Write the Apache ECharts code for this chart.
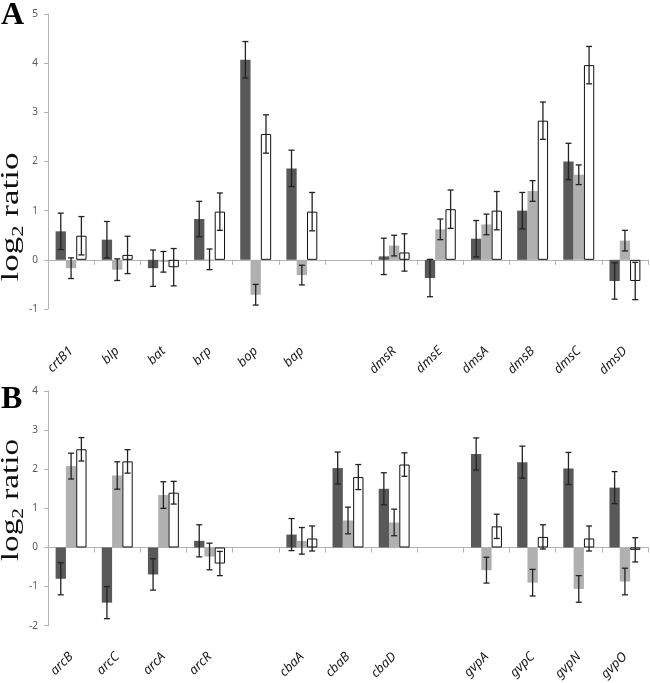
<!DOCTYPE html>
<html><head><meta charset="utf-8">
<script src="https://cdn.jsdelivr.net/npm/echarts@6/dist/echarts.min.js"></script>
<style>html,body{margin:0;padding:0;background:#fff}#c{width:650px;height:683px}</style>
</head><body><div id="c"></div>
<script>
// Panel A
var catsA = ['crtB1','blp','bat','brp','bop','bap','','dmsR','dmsE','dmsA','dmsB','dmsC','dmsD'];
var darkA  = [0.58, 0.41, -0.17, 0.83, 4.07, 1.86, null, 0.07, -0.37, 0.43, 1.00, 2.00, -0.43];
var lightA = [-0.17, -0.20, -0.04, 0.01, -0.71, -0.31, null, 0.29, 0.62, 0.72, 1.40, 1.73, 0.39];
var whiteA = [0.49, 0.10, -0.15, 0.98, 2.56, 0.98, null, 0.15, 1.03, 1.00, 2.83, 3.96, -0.43];
var errDarkA  = [0.37, 0.37, 0.37, 0.36, 0.37, 0.37, null, 0.37, 0.38, 0.37, 0.37, 0.37, 0.37];
var errLightA = [0.21, 0.22, 0.21, 0.21, 0.21, 0.20, null, 0.21, 0.21, 0.21, 0.21, 0.20, 0.21];
var errWhiteA = [0.39, 0.38, 0.38, 0.38, 0.39, 0.39, null, 0.38, 0.39, 0.39, 0.38, 0.38, 0.38];
var ticksA = {min: -1, max: 5, interval: 1};
// Panel B
var catsB = ['arcB','arcC','arcA','arcR','','cbaA','cbaB','cbaD','','gvpA','gvpC','gvpN','gvpO'];
var darkB  = [-0.80, -1.41, -0.69, 0.17, null, 0.33, 2.03, 1.50, null, 2.39, 2.18, 2.02, 1.53];
var lightB = [2.08, 1.84, 1.34, -0.23, null, 0.17, 0.69, 0.64, null, -0.58, -0.90, -1.06, -0.87];
var whiteB = [2.51, 2.20, 1.40, -0.41, null, 0.23, 1.80, 2.12, null, 0.54, 0.27, 0.23, -0.06];
var errDarkB  = [0.41, 0.41, 0.40, 0.41, null, 0.41, 0.41, 0.41, null, 0.41, 0.41, 0.41, 0.41];
var errLightB = [0.33, 0.35, 0.34, 0.34, null, 0.34, 0.34, 0.34, null, 0.33, 0.34, 0.34, 0.34];
var errWhiteB = [0.30, 0.30, 0.29, 0.31, null, 0.32, 0.32, 0.30, null, 0.31, 0.31, 0.32, 0.31];
var ticksB = {min: -2, max: 4, interval: 1};

var DARK = '#595959', LIGHT = '#b0b0b0', AXIS = '#b3b3b3';
var CATGAP = 0.33;

function barSeries(xi, yi, vals, color, border) {
  return {type: 'bar', xAxisIndex: xi, yAxisIndex: yi, data: vals,
    barGap: '0%', barCategoryGap: (CATGAP * 100) + '%',
    itemStyle: {color: color, borderColor: border ? '#111' : color, borderWidth: border ? 1 : 0},
    silent: true, z: 2};
}
function errSeries(xi, yi, vals, errs, off) {
  var d = [];
  vals.forEach(function (v, i) { if (v != null) d.push([i, v, errs[i]]); });
  return {type: 'custom', xAxisIndex: xi, yAxisIndex: yi, data: d, z: 5, silent: true,
    encode: {x: 0, y: 1},
    renderItem: function (params, api) {
      var i = api.value(0), v = api.value(1), e = api.value(2);
      var bw = api.size([1, 0])[0] * (1 - CATGAP) / 3;
      var x = api.coord([i, v])[0] + off * bw;
      var yt = api.coord([i, v + e])[1], yb = api.coord([i, v - e])[1];
      var c = 3;
      var st = {stroke: '#222', lineWidth: 1.3};
      return {type: 'group', children: [
        {type: 'line', shape: {x1: x, y1: yt, x2: x, y2: yb}, style: st},
        {type: 'line', shape: {x1: x - c, y1: yt, x2: x + c, y2: yt}, style: st},
        {type: 'line', shape: {x1: x - c, y1: yb, x2: x + c, y2: yb}, style: st}
      ]};
    }};
}
function xAxes(gi, cats, margin) {
  return [
    {type: 'category', gridIndex: gi, data: cats, boundaryGap: true,
      axisLine: {onZero: true, lineStyle: {color: AXIS, width: 1}},
      axisTick: {show: true, length: 5, alignWithLabel: false, lineStyle: {color: AXIS}},
      axisLabel: {show: false}, splitLine: {show: false}},
    {type: 'category', gridIndex: gi, data: cats, position: 'bottom',
      axisLine: {show: false, onZero: false}, axisTick: {show: false},
      axisLabel: {interval: 0, rotate: 45, margin: margin, fontSize: 13, fontStyle: 'italic',
        fontFamily: 'Noto Sans', color: '#1a1a1a'}}
  ];
}
function yAxis(gi, t) {
  return {type: 'value', gridIndex: gi, min: t.min, max: t.max, interval: t.interval,
    axisLine: {show: true, lineStyle: {color: AXIS}},
    axisTick: {show: true, length: 4, lineStyle: {color: AXIS}},
    splitLine: {show: false},
    axisLabel: {fontSize: 10, color: '#595959', fontFamily: 'Noto Sans', margin: 10}};
}
function yName(y, fs, sc) {
  return {type: 'text', x: 11, y: y, rotation: Math.PI / 2, scaleX: sc, scaleY: 1,
    style: {text: '{a|log}{b|2}{a| ratio}', align: 'center', verticalAlign: 'middle',
      rich: {a: {fontSize: fs, fontFamily: 'Liberation Serif', fill: '#111'},
             b: {fontSize: Math.round(fs * 0.65), fontFamily: 'Liberation Serif', fill: '#111', padding: [Math.round(fs * 0.6), 0, 0, 0]}}}};
}

var option = {
  animation: false,
  grid: [
    {left: 48, top: 14, width: 600, height: 295},
    {left: 48, top: 391, width: 600, height: 241}
  ],
  xAxis: xAxes(0, catsA, 40).concat(xAxes(1, catsB, 29)),
  yAxis: [yAxis(0, ticksA), yAxis(1, ticksB)],
  series: [
    barSeries(0, 0, darkA, DARK, false), barSeries(0, 0, lightA, LIGHT, false), barSeries(0, 0, whiteA, '#fff', true),
    errSeries(0, 0, darkA, errDarkA, -1), errSeries(0, 0, lightA, errLightA, 0), errSeries(0, 0, whiteA, errWhiteA, 1),
    barSeries(2, 1, darkB, DARK, false), barSeries(2, 1, lightB, LIGHT, false), barSeries(2, 1, whiteB, '#fff', true),
    errSeries(2, 1, darkB, errDarkB, -1), errSeries(2, 1, lightB, errLightB, 0), errSeries(2, 1, whiteB, errWhiteB, 1)
  ],
  graphic: [
    {type: 'text', x: 1, y: 0, style: {text: 'A', fontSize: 32, fontWeight: 'bold', fontFamily: 'Liberation Serif', fill: '#000'}},
    {type: 'text', x: 1, y: 384, style: {text: 'B', fontSize: 32, fontWeight: 'bold', fontFamily: 'Liberation Serif', fill: '#000'}},
    yName(217, 25, 1.4), yName(500, 25, 1.33)
  ]
};
var chart = echarts.init(document.getElementById('c'), null, {renderer: 'canvas'});
chart.setOption(option);
</script></body></html>
